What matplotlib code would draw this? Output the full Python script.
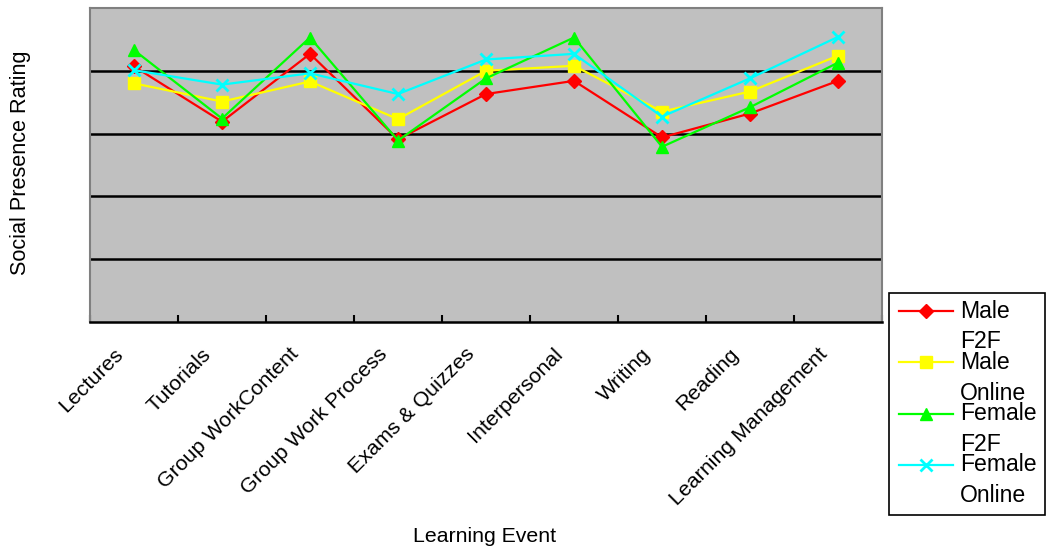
import numpy as np
import matplotlib
matplotlib.use("Agg")
import matplotlib.pyplot as plt
from matplotlib.lines import Line2D
from matplotlib.patches import Rectangle
from matplotlib.transforms import ScaledTranslation

plt.rcParams['font.family'] = ['Liberation Sans', 'DejaVu Sans']

events = ['Lectures', 'Tutorials', 'Group WorkContent', 'Group Work Process',
          'Exams & Quizzes', 'Interpersonal', 'Writing', 'Reading',
          'Learning Management']

male_f2f = [4.07, 3.19, 4.27, 2.91, 3.63, 3.84, 2.94, 3.32, 3.84]
male_online = [3.80, 3.51, 3.83, 3.23, 4.00, 4.08, 3.35, 3.67, 4.24]
female_f2f = [4.33, 3.24, 4.53, 2.89, 3.88, 4.53, 2.79, 3.42, 4.13]
female_online = [4.01, 3.78, 3.96, 3.63, 4.18, 4.27, 3.27, 3.88, 4.54]

series = [
    ('Male\nF2F', male_f2f, '#FF0000', 'D', 7.5),
    ('Male\nOnline', male_online, '#FFFF00', 's', 8),
    ('Female\nF2F', female_f2f, '#00FF00', '^', 9),
    ('Female\nOnline', female_online, '#00FFFF', 'x', 9),
]

W, H = 1046, 548
fig = plt.figure(figsize=(W / 100, H / 100), dpi=100)
ax = fig.add_axes([90 / W, 1 - 322 / H, 792 / W, 314 / H])
ax.set_facecolor('#C0C0C0')

x = np.arange(len(events))
for label, vals, color, marker, ms in series:
    ax.plot(x, vals, color=color, marker=marker, markersize=ms, lw=1.6,
            mew=2 if marker == 'x' else 1, mec=color, mfc=color, zorder=3)

ax.set_xlim(-0.5, len(events) - 0.5)
ax.set_ylim(0, 5)

# horizontal grid, no y labels
ax.set_yticks([1, 2, 3, 4])
ax.set_yticklabels([])
ax.tick_params(axis='y', length=0)
ax.yaxis.grid(True, color='black', lw=1.8)
ax.set_axisbelow(True)

# category boundaries get the tick marks, centres get the labels
ax.set_xticks(np.arange(-0.5, len(events)))
ax.set_xticklabels([])
ax.tick_params(axis='x', which='major', direction='in', length=5, width=1.5, color='black')
ax.set_xticks(x, minor=True)
ax.set_xticklabels(events, minor=True, rotation=45, ha='right', va='center',
                   rotation_mode='anchor', fontsize=15.4)
ax.tick_params(axis='x', which='minor', length=0, pad=21)
shift = ScaledTranslation(-14 / 100, 0, fig.dpi_scale_trans)
for t in ax.get_xticklabels(minor=True):
    t.set_transform(t.get_transform() + shift)

for side in ['top', 'right', 'left']:
    ax.spines[side].set_color('#808080')
    ax.spines[side].set_linewidth(1.5)
ax.spines['bottom'].set_color('black')
ax.spines['bottom'].set_linewidth(1.8)

fig.text(21 / W, 1 - 163 / H, 'Social Presence Rating', rotation=90,
         ha='center', va='center', fontsize=15.6)
fig.text(485 / W, 1 - 537 / H, 'Learning Event', ha='center', va='center',
         fontsize=15.3)

# legend box with two-line labels
fig.patches.append(Rectangle((889 / W, 1 - 515 / H), 156 / W, 222 / H,
                             transform=fig.transFigure, fill=False,
                             edgecolor='black', lw=1.2))
for i, (label, vals, color, marker, ms) in enumerate(series):
    yy = 1 - (311 + i * 51.3) / H
    fig.lines.append(Line2D([899 / W, 953 / W], [yy, yy], transform=fig.transFigure,
                            color=color, lw=1.6))
    fig.lines.append(Line2D([926 / W], [yy], transform=fig.transFigure,
                            color=color, marker=marker, markersize=ms,
                            mew=2 if marker == 'x' else 1, mec=color, mfc=color))
    first, second = label.split('\n')
    fig.text(960 / W, yy, first, ha='left', va='center', fontsize=16.6)
    fig.text(960 / W, yy - 31 / H, second, ha='left', va='center', fontsize=16.6)

fig.savefig('out.png', dpi=100)
